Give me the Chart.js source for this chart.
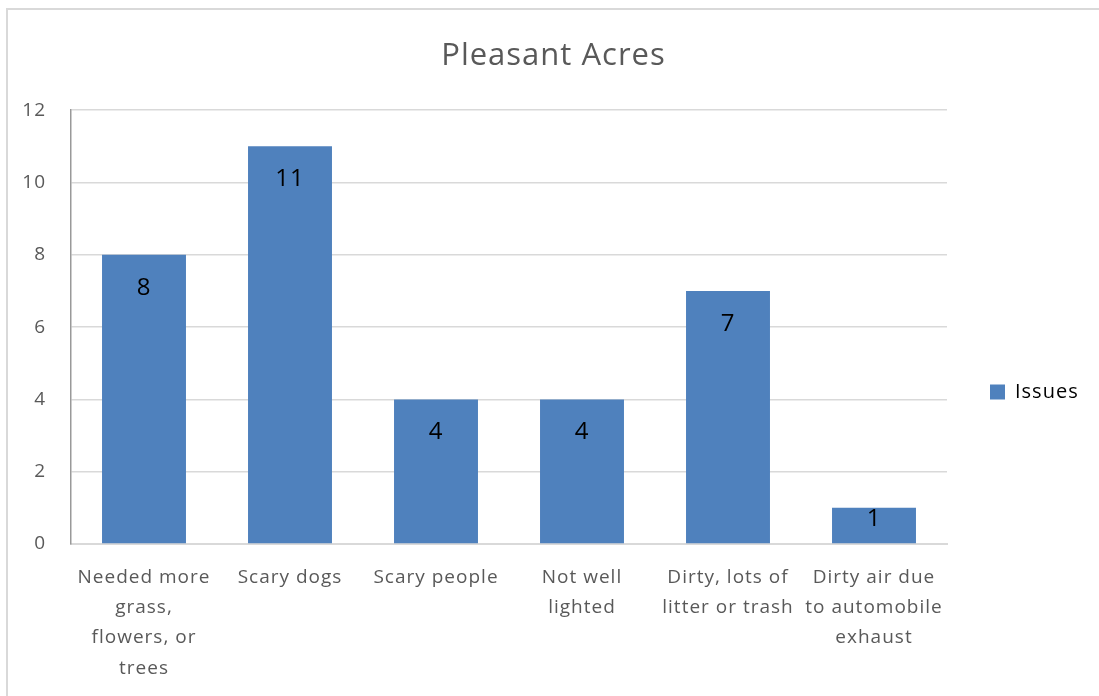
<!DOCTYPE html>
<html>
<head>
<meta charset="utf-8">
<title>Pleasant Acres</title>
<script src="https://cdn.jsdelivr.net/npm/chart.js@4/dist/chart.umd.min.js"></script>
<style>
	html, body { margin: 0; padding: 0; background: #fff; overflow: hidden; }
	#frame {
		position: absolute;
		left: 6px;
		top: 8px;
		width: 1100px;
		height: 700px;
		border-left: 2px solid #d9d9d9;
		border-top: 2px solid #d9d9d9;
	}
	#chart { display: block; }
</style>
</head>
<body>
<div id="frame">
	<canvas id="chart" width="1091" height="686"></canvas>
</div>
<script>
// data
const categories = [
	['Needed more', 'grass,', 'flowers, or', 'trees'],
	['Scary dogs'],
	['Scary people'],
	['Not well', 'lighted'],
	['Dirty, lots of', 'litter or trash'],
	['Dirty air due', 'to automobile', 'exhaust']
];
const issues = [8, 11, 4, 4, 7, 1];
const yTicks = [0, 2, 4, 6, 8, 10, 12];

const FONT = '"Open Sans", Lato, sans-serif';
const SPACING = '1px';

// the original text is set a little loose, canvas resets this on resize
const looseText = {
	id: 'looseText',
	beforeLayout(chart) {
		chart.ctx.letterSpacing = SPACING;
		// keep the legend column a fixed width so the plot ends where the original does
		const lg = chart.legend;
		if (lg && !lg._fixedWidth) {
			const fit = lg.fit;
			lg.fit = function() {
				fit.call(this);
				this.width = 152;
			};
			lg._fixedWidth = true;
		}
	},
	afterLayout(chart) {
		// legend sits a bit lower than centred
		chart.legend.top += 39;
		chart.legend.bottom += 39;
	},
	beforeDraw(chart) {
		chart.ctx.letterSpacing = SPACING;
	}
};

// value labels sitting inside the top of each bar
const barLabels = {
	id: 'barLabels',
	afterDatasetsDraw(chart) {
		const ctx = chart.ctx;
		const meta = chart.getDatasetMeta(0);
		ctx.save();
		ctx.font = '24px ' + FONT;
		ctx.fillStyle = '#000';
		ctx.textAlign = 'center';
		ctx.textBaseline = 'middle';
		meta.data.forEach((bar, i) => {
			const h = bar.base - bar.y;
			ctx.fillText(String(issues[i]), bar.x, bar.y + Math.min(33, h / 4 + 2));
		});
		ctx.restore();
	}
};

new Chart(document.getElementById('chart'), {
	type: 'bar',
	data: {
		labels: categories,
		datasets: [{
			label: 'Issues',
			data: issues,
			backgroundColor: '#4F81BD',
			borderWidth: 0,
			barPercentage: 0.575,
			categoryPercentage: 1
		}]
	},
	options: {
		responsive: false,
		animation: false,
		layout: { padding: 0 },
		plugins: {
			title: {
				display: true,
				text: 'Pleasant Acres',
				color: '#595959',
				font: { family: FONT, size: 31, weight: 'normal', lineHeight: 1.2 },
				padding: { top: 28, bottom: 35 }
			},
			legend: {
				position: 'right',
				labels: {
					boxWidth: 15,
					boxHeight: 15,
					padding: 43,
					color: '#000',
					font: { family: FONT, size: 20 }
				}
			},
			tooltip: { enabled: false }
		},
		scales: {
			x: {
				grid: { display: false, drawTicks: false },
				border: { display: true, color: '#d9d9d9', width: 2 },
				ticks: {
					color: '#595959',
					padding: 18,
					maxRotation: 0,
					autoSkip: false,
					font: { family: FONT, size: 19, lineHeight: 1.6 }
				},
				afterFit(scale) { scale.height = 152; }
			},
			y: {
				min: 0,
				max: 12,
				afterBuildTicks(scale) {
					scale.ticks = yTicks.map(v => ({ value: v }));
				},
				grid: { color: '#d9d9d9', lineWidth: 1.5, drawTicks: false },
				border: { display: true, color: '#999', width: 1.5 },
				ticks: {
					color: '#595959',
					padding: 25,
					font: { family: FONT, size: 19 }
				},
				afterFit(scale) { scale.width = 63; }
			}
		}
	},
	plugins: [looseText, barLabels]
});
</script>
</body>
</html>
